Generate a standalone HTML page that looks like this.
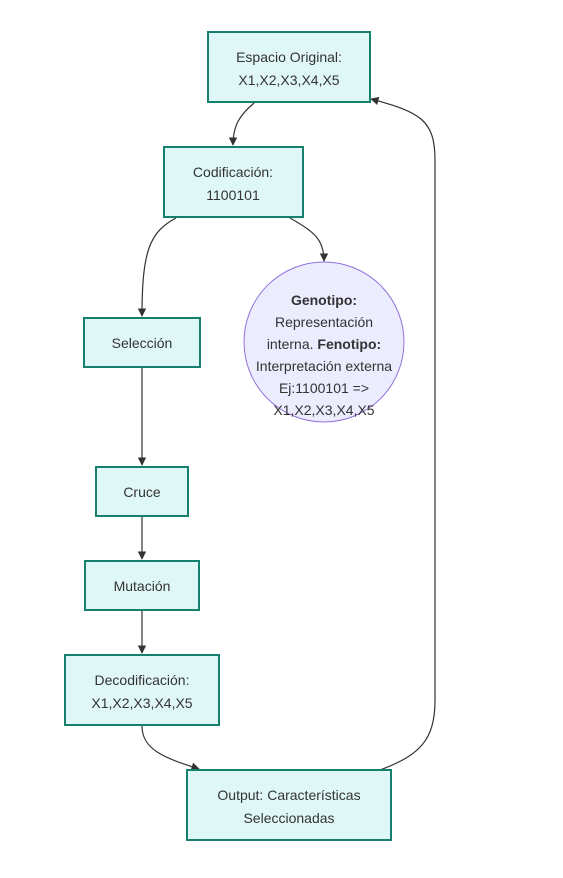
<!DOCTYPE html>
<html><head><meta charset="utf-8"><style>
html,body{margin:0;padding:0;background:#fff;}
svg{display:block}
text{font-family:"Liberation Sans","DejaVu Sans",sans-serif;font-size:14px;fill:#333;text-anchor:middle}
.b{fill:#e0f7f8;stroke:#16806e;stroke-width:2}
.e{fill:none;stroke:#333;stroke-width:1.2}
</style></head><body>
<svg width="563" height="878" viewBox="0 0 563 878" xmlns="http://www.w3.org/2000/svg">
<defs><marker id="a" viewBox="0 0 10 10" refX="9" refY="5" markerWidth="7" markerHeight="7" orient="auto"><path d="M0,0L10,5L0,10z" fill="#333"/></marker></defs>
<path class="e" d="M254,103 C240,115 233,125 233,145" marker-end="url(#a)"/>
<path class="e" d="M176,218 C150,232 142,250 142,316" marker-end="url(#a)"/>
<path class="e" d="M290,218 C315,232 324,240 324,261" marker-end="url(#a)"/>
<path class="e" d="M142,368 L142,465" marker-end="url(#a)"/>
<path class="e" d="M142,517 L142,559" marker-end="url(#a)"/>
<path class="e" d="M142,611 L142,653" marker-end="url(#a)"/>
<path class="e" d="M142,726 C142,750 165,758 199,769" marker-end="url(#a)"/>
<path class="e" d="M380,770 C420,755 435,740 435,700 L435,160 C435,120 420,112 371,99" marker-end="url(#a)"/>
<rect class="b" x="208" y="32" width="162" height="70"/>
<text x="289" y="62">Espacio Original:</text><text x="289" y="85">X1,X2,X3,X4,X5</text>
<rect class="b" x="164" y="147" width="139" height="70"/>
<text x="233" y="177">Codificación:</text><text x="233" y="200">1100101</text>
<circle cx="324" cy="342" r="80" fill="#ececff" stroke="#9370db" stroke-width="1"/>
<text x="324" y="305"><tspan font-weight="bold">Genotipo:</tspan></text>
<text x="324" y="327">Representación</text>
<text x="324" y="349">interna. <tspan font-weight="bold">Fenotipo:</tspan></text>
<text x="324" y="371">Interpretación externa</text>
<text x="324" y="393">Ej:1100101 =&gt;</text>
<text x="324" y="415">X1,X2,X3,X4,X5</text>
<rect class="b" x="84" y="318" width="116" height="49"/>
<text x="142" y="348">Selección</text>
<rect class="b" x="96" y="467" width="92" height="49"/>
<text x="142" y="497">Cruce</text>
<rect class="b" x="85" y="561" width="114" height="49"/>
<text x="142" y="591">Mutación</text>
<rect class="b" x="65" y="655" width="154" height="70"/>
<text x="142" y="685">Decodificación:</text><text x="142" y="708">X1,X2,X3,X4,X5</text>
<rect class="b" x="187" y="770" width="204" height="70"/>
<text x="289" y="800">Output: Características</text><text x="289" y="823">Seleccionadas</text>
</svg>
</body></html>
